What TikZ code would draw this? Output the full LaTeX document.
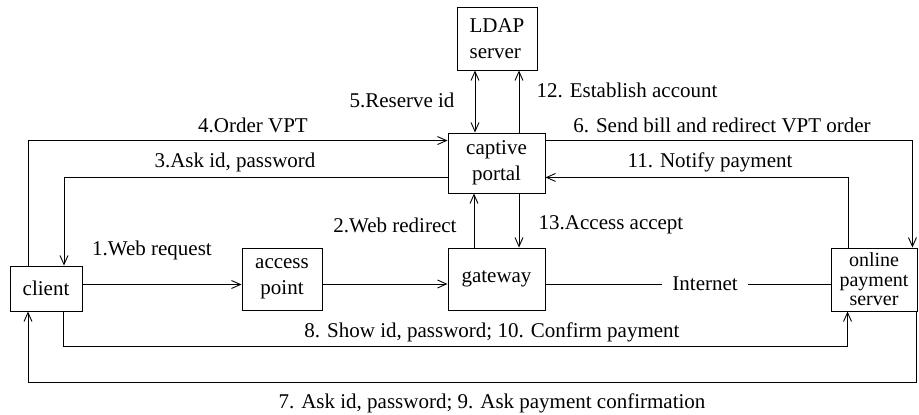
\documentclass[tikz,border=0pt]{standalone}
\usepackage{fontspec}
\setmainfont{Liberation Serif}
\usetikzlibrary{arrows.meta}
\begin{document}
\begin{tikzpicture}
  [x=1pt,y=-1pt,line width=0.9pt,
   every node/.style={font=\fontsize{21}{26}\selectfont,inner sep=1pt},
   box/.style={draw,rectangle,align=center},
   arr/.style={-{Straight Barb[length=9pt,width=8pt]}},
   darr/.style={{Straight Barb[length=9pt,width=8pt]}-{Straight Barb[length=9pt,width=8pt]}}]

  \useasboundingbox (0,0) rectangle (919,415);

  % boxes
  \node[box,minimum width=72pt,minimum height=45pt] (client) at (46,288.5) {client};
  \node[box,minimum width=80pt,minimum height=62pt] (access) at (282,279) {access\\point};
  \node[box,minimum width=97pt,minimum height=62pt] (gateway) at (496.5,279) {gateway};
  \node[box,minimum width=97pt,minimum height=60pt] (portal) at (496.5,163) {captive\\portal};
  \node[box,align=left,minimum width=80pt,minimum height=63pt] (ldap) at (497,38.5) {LDAP\\server};
  \node[box,minimum width=86pt,minimum height=63pt,inner sep=0pt,
        font=\fontsize{20}{19.5}\selectfont] (ops) at (874,279.5) {online\\payment\\server};

  % messages
  \node (m1) at (152,250) {1.Web request};
  \node (m2) at (395,225) {2.Web redirect};
  \node (m3) at (235,162) {3.Ask id, password};
  \node (m4) at (253,125) {4.Order VPT};
  \node (m5) at (402,100) {5.Reserve id};
  \node (m6) at (722,125) {6. Send bill and redirect VPT order};
  \node (m7) at (492,403) {7. Ask id, password; 9. Ask payment confirmation};
  \node (m8) at (492,332) {8. Show id, password; 10. Confirm payment};
  \node (m11) at (710,162) {11. Notify payment};
  \node (m12) at (627,90) {12. Establish account};
  \node (m13) at (611,225) {13.Access accept};

  % connectors
  \draw[arr] ([yshift=4]client.east) -- ([yshift=4]client.east -| access.west);
  \draw[arr] ([yshift=-5]access.east) -- ([yshift=-5]gateway.west);
  \draw ([yshift=-5]gateway.east) -- node[pos=.56,fill=white,inner xsep=10pt] (net) {Internet}
        ([yshift=-5]gateway.east -| ops.west);
  \draw[arr] ([xshift=-22.5]gateway.north) -- ([xshift=-22.5]portal.south);
  \draw[arr] ([xshift=22.5]portal.south) -- ([xshift=22.5]gateway.north);
  \draw[darr] ([xshift=-21.5]portal.north) -- ([xshift=-22]ldap.south);
  \draw[arr] ([xshift=22.5]portal.north) -- ([xshift=22]ldap.south);
  \draw[arr] ([xshift=-18]client.north) |- ([yshift=-8]portal.north west);
  \draw[arr] ([yshift=16]portal.south west) -| ([xshift=18]client.north);
  \draw[arr] ([yshift=-8]portal.north east) -| ([xshift=-5]ops.north east);
  \draw[arr] ([xshift=18]ops.north west) |- ([yshift=16]portal.south east);
  \draw[arr] ([xshift=17]client.south) -- ++(0,35) -| ([xshift=17]ops.south west);
  \draw[arr] ([xshift=-1]ops.south east) -- ++(0,71) -| ([xshift=-18]client.south);

\end{tikzpicture}
\end{document}
